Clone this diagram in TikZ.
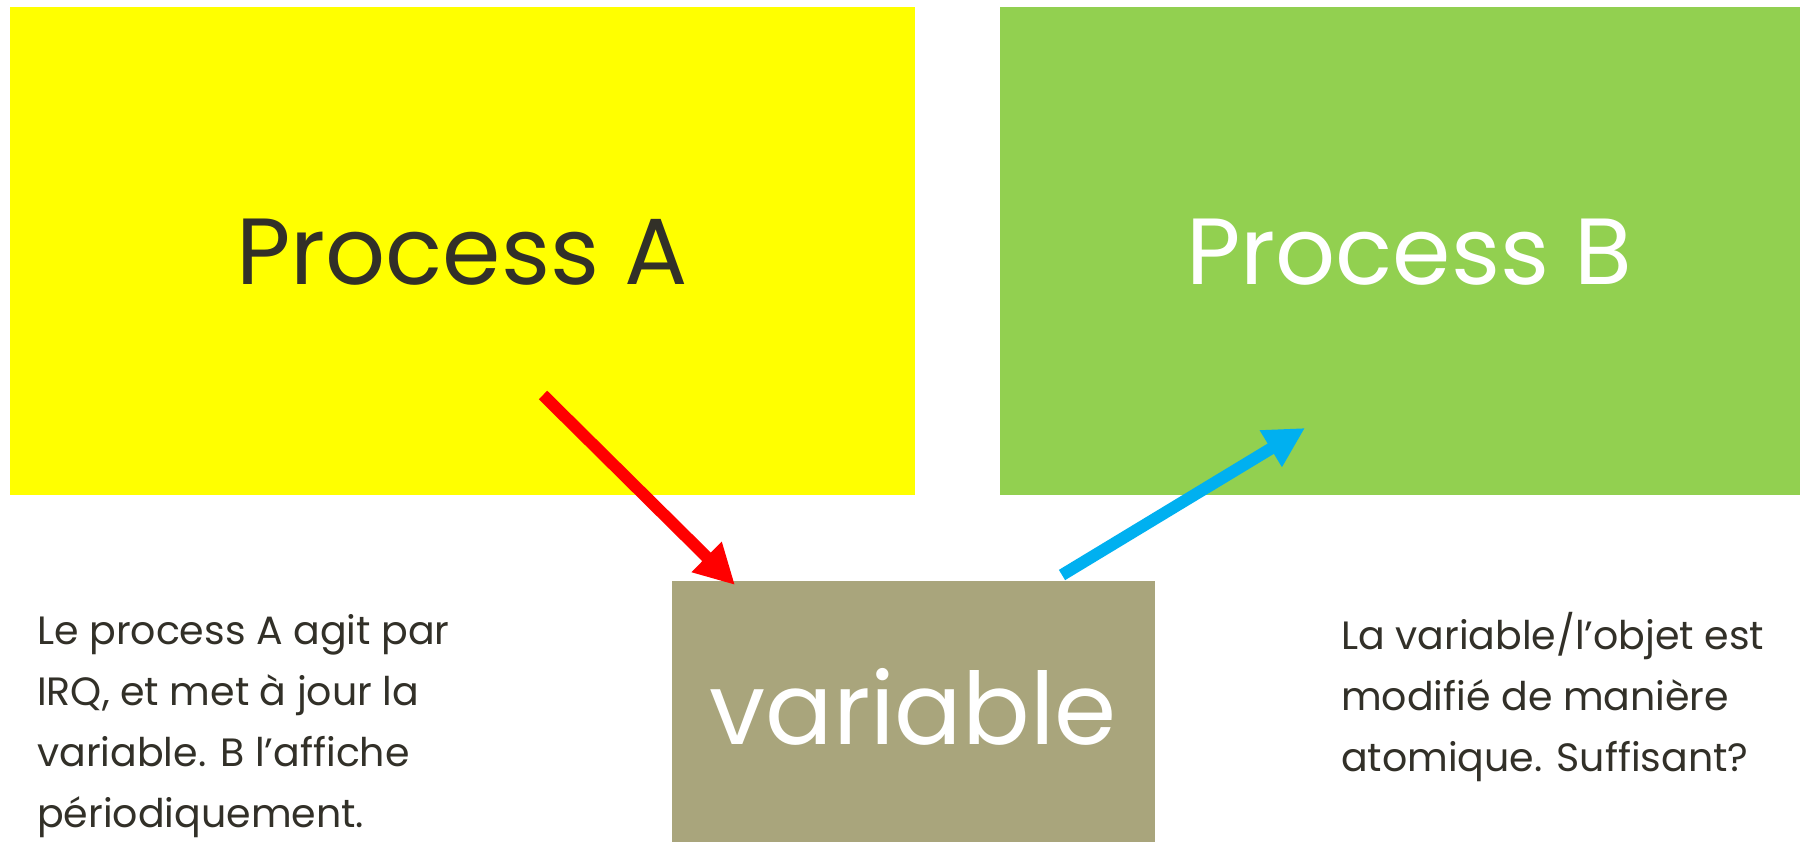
\documentclass[tikz,border=0pt]{standalone}
\usepackage{fontspec}
\setmainfont{Poppins}
\usetikzlibrary{arrows.meta}
\definecolor{txt}{RGB}{50,48,40}
\definecolor{ylw}{RGB}{255,255,0}
\definecolor{grn}{RGB}{146,208,80}
\definecolor{tan}{RGB}{169,165,124}
\definecolor{redA}{RGB}{255,0,0}
\definecolor{blueB}{RGB}{0,176,240}
\tikzset{
  bigtext/.style={font=\fontsize{100}{110}\selectfont},
  proctext/.style={font=\fontsize{94}{110}\selectfont},
  note/.style={anchor=north west, align=left, inner sep=0pt, text=txt, font=\fontsize{39.5}{61}\selectfont},
  flow/.style={line width=12pt, -{Triangle[length=40pt,width=40pt]}}
}
\begin{document}
\begin{tikzpicture}[x=1pt,y=-1pt]
\useasboundingbox (0,0) rectangle (1800,842);
\fill[white] (0,0) rectangle (1800,842);
\fill[ylw] (10,7) rectangle (915,495);
\fill[grn] (1000,7) rectangle (1800,495);
\fill[tan] (672,581) rectangle (1155,842);
\node[proctext, text=txt, anchor=base] (pa) at (462,285) {Process A};
\node[proctext, text=white, anchor=base] (pb) at (1409,285) {Process B};
\node[bigtext, text=white, anchor=base] (var) at (913,744) {variable};
\node[note] (left) at (37,614) {Le process A agit par\\IRQ, et met à jour la\\variable. B l’affiche\\périodiquement.};
\node[note] (right) at (1341,612) {La variable/l’objet est\\modifié de manière\\atomique. Suffisant?};
\coordinate (rs) at (543,395);
\coordinate (re) at (735,585);
\coordinate (bs) at (1062,575);
\coordinate (be) at (1305,428);
\draw[flow, redA] (rs) -- (re);
\draw[flow, blueB] (bs) -- (be);
\end{tikzpicture}
\end{document}
